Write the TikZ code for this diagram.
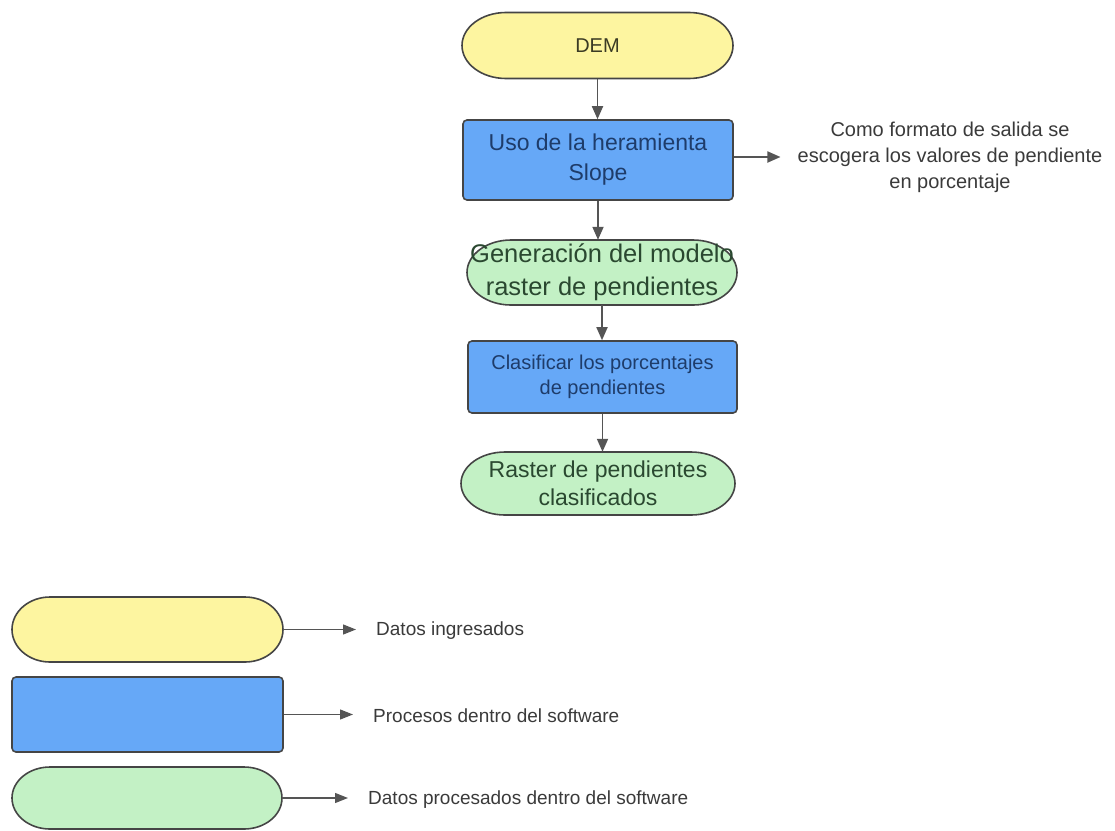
\documentclass[tikz,border=0pt]{standalone}
\usepackage{fontspec}
\setmainfont{Liberation Sans}
\usetikzlibrary{arrows.meta}

\definecolor{edgecol}{HTML}{454545}
\definecolor{arrowcol}{HTML}{555555}
\definecolor{yellowfill}{HTML}{FDF5A0}
\definecolor{bluefill}{HTML}{66A8F7}
\definecolor{greenfill}{HTML}{C3F1C5}
\definecolor{navytext}{HTML}{1E3C6A}
\definecolor{greentext}{HTML}{2A4830}
\definecolor{olivetext}{HTML}{3B3B24}
\definecolor{graytext}{HTML}{3A3A3A}

% capsule outline: centre x, centre y, width, height, end radius, fill
\newcommand\capsule[6]{%
  \draw[shapeline, fill=#6]
    (#1-#3/2+#5, #2-#4/2) -- (#1+#3/2-#5, #2-#4/2)
    arc[start angle=-90, end angle=90, x radius=#5, y radius=#4/2]
    -- (#1-#3/2+#5, #2+#4/2)
    arc[start angle=90, end angle=270, x radius=#5, y radius=#4/2]
    -- cycle;}

\tikzset{
  shapeline/.style={draw=edgecol, line width=1.6pt},
  procbox/.style={shapeline, fill=bluefill, rounded corners=4pt, align=center,
    text=navytext, inner sep=0pt},
  capsuletext/.style={align=center, inner sep=0pt},
  flow/.style={draw=arrowcol, line width=1.8pt,
    -{Triangle[length=13pt,width=11pt]}},
  legendflow/.style={draw=arrowcol, line width=1.3pt,
    -{Triangle[length=13pt,width=10pt]}},
  legendtext/.style={anchor=west, text=graytext, inner xsep=20pt, inner ysep=2pt,
    font=\fontsize{19}{23}\selectfont},
}

\begin{document}
\begin{tikzpicture}[x=1pt, y=-1pt]
\useasboundingbox (0,0) rectangle (1115,830);

% ---- main flow ----
\capsule{597.5}{45.5}{271}{66}{44}{yellowfill}
\node[capsuletext, minimum width=271pt, minimum height=66pt, text=olivetext,
  font=\fontsize{20}{24}\selectfont] (dem) at (597.5,45.5) {DEM};

\node[procbox, minimum width=270pt, minimum height=80pt,
  font=\fontsize{23}{30}\selectfont] (slope) at (598,160)
  {Uso de la heramienta\\Slope};

\capsule{602}{272.5}{270}{65}{44}{greenfill}
\node[capsuletext, minimum width=270pt, minimum height=65pt, text=greentext,
  font=\fontsize{25.5}{33}\selectfont] (model) at (602,272.5)
  {Generación del modelo\\raster de pendientes};

\node[procbox, minimum width=269pt, minimum height=72pt,
  font=\fontsize{20}{25}\selectfont] (classify) at (602.5,377)
  {Clasificar los porcentajes\\de pendientes};

\capsule{598}{483.5}{274}{63}{44}{greenfill}
\node[capsuletext, minimum width=274pt, minimum height=63pt, text=greentext,
  font=\fontsize{23}{28}\selectfont] (result) at (598,483.5)
  {Raster de pendientes\\clasificados};

\node[align=center, text=graytext, inner xsep=17pt, inner ysep=2pt,
  font=\fontsize{20}{26}\selectfont] (note) at (950,157)
  {Como formato de salida se\\escogera los valores de pendiente\\en porcentaje};

\draw[flow] (dem.south) -- (dem.south |- slope.north);
\draw[flow] (slope.south) -- (slope.south |- model.north);
\draw[flow] (model.south) -- (model.south |- classify.north);
\draw[flow] (classify.south) -- (classify.south |- result.north);
\draw[flow] (slope.east |- note.west) -- (note.west);

% ---- legend ----
\capsule{147.5}{629.5}{271}{65}{38}{yellowfill}
\node[capsuletext, minimum width=271pt, minimum height=65pt] (lgin) at (147.5,629.5) {};
\node[legendtext] (lgintext) at (356,631) {Datos ingresados};

\node[procbox, minimum width=271pt, minimum height=75pt] (lgproc) at (147.5,714.5) {};
\node[legendtext] (lgproctext) at (353,716) {Procesos dentro del software};

\capsule{147}{798}{270}{62}{38}{greenfill}
\node[capsuletext, minimum width=270pt, minimum height=62pt] (lgout) at (147,798) {};
\node[legendtext] (lgouttext) at (348,800) {Datos procesados dentro del software};

\draw[legendflow] (lgin.east) -- (lgin.east -| lgintext.west);
\draw[legendflow] (lgproc.east) -- (lgproc.east -| lgproctext.west);
\draw[legendflow] (lgout.east) -- (lgout.east -| lgouttext.west);
\end{tikzpicture}
\end{document}
